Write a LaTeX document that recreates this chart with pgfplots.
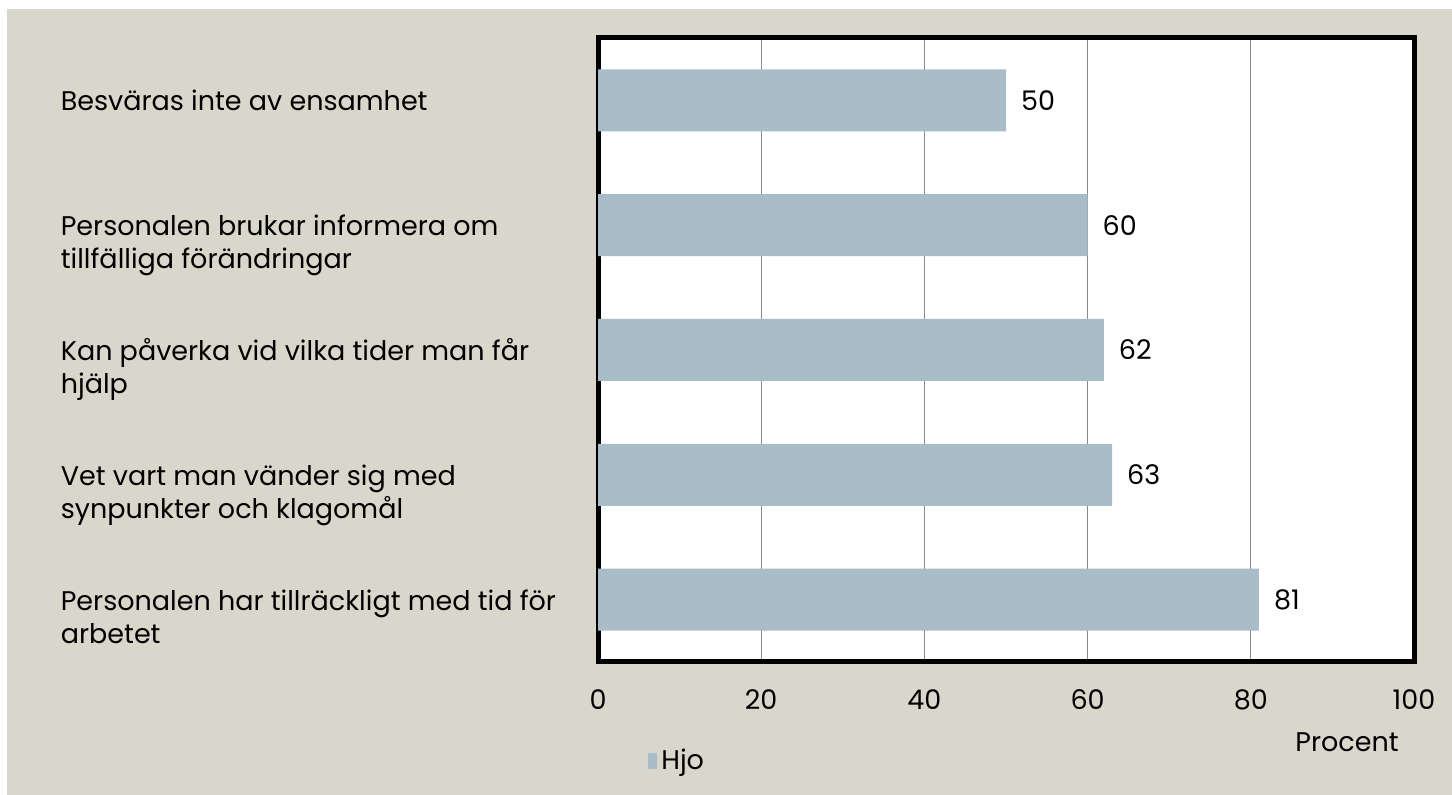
\documentclass[border=0pt]{standalone}
\usepackage{pgfplots}
\pgfplotsset{compat=1.18}
\usepackage{fontspec}
\setmainfont{Poppins}

\definecolor{bgcol}{HTML}{D9D7CB}
\definecolor{barcol}{HTML}{A8BDC8}
\definecolor{gridcol}{HTML}{8A8A8A}

\begin{document}
\begin{tikzpicture}[x=1pt,y=1pt]
\useasboundingbox (0,0) rectangle (726,397.5);
\fill[white] (0,0) rectangle (726,397.5);
\fill[bgcol] (3.5,0) rectangle (726,393);
\begin{axis}[
  at={(299pt,66.5pt)}, anchor=south west,
  scale only axis, width=408pt, height=312pt,
  xbar, bar width=31pt,
  xmin=0, xmax=100, ymin=0.5, ymax=5.5,
  xtick={0,20,...,100},
  ytick={1,...,5}, y dir=reverse,
  yticklabels={
    \strut Besväras inte av ensamhet,
    {\strut Personalen brukar informera om\\tillfälliga förändringar},
    {\strut Kan påverka vid vilka tider man får\\hjälp},
    {\strut Vet vart man vänder sig med\\synpunkter och klagomål},
    {\strut Personalen har tillräckligt med tid för\\arbetet}},
  tick style={draw=none},
  axis line style={line width=2.5pt, black},
  axis background/.style={fill=white},
  xmajorgrids, major grid style={gridcol, line width=0.5pt},
  /pgf/number format/assume math mode=true,
  font=\fontsize{13.5}{16.5}\selectfont,
  yticklabel style={anchor=north west, align=left, inner sep=0pt,
    xshift=-264.5pt, yshift=6.5pt},
  xticklabel style={anchor=base, inner sep=0pt, yshift=-24pt},
  xlabel={Procent},
  xlabel style={at={(rel axis cs:0.918,0)}, anchor=base, inner sep=0pt, yshift=-45pt},
  nodes near coords,
  nodes near coords style={anchor=west, xshift=4pt, black,
    /pgf/number format/assume math mode=true},
  legend style={at={(0.098,-0.159)}, anchor=center, draw=none, fill=none,
    inner sep=0pt, font=\fontsize{13.5}{16.5}\selectfont},
  legend image code/.code={\fill[barcol] (0pt,-4pt) rectangle (4.7pt,4pt);},
  clip=false,
]
\addplot[fill=barcol, draw=none] coordinates {
  (50,1) (60,2) (62,3) (63,4) (81,5)
};
\legend{Hjo}
\end{axis}
\end{tikzpicture}
\end{document}
